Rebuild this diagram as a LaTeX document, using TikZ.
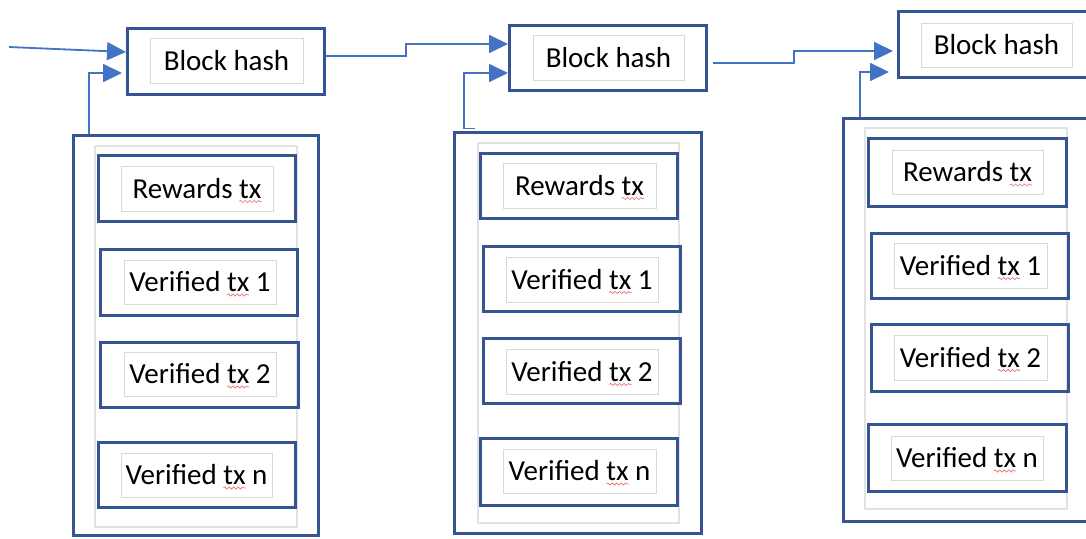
\documentclass[tikz,border=0pt]{standalone}
\usepackage{fontspec}
\setmainfont{Carlito}
\usetikzlibrary{arrows.meta,decorations.pathmorphing}

\definecolor{boxblue}{RGB}{52,84,148}
\definecolor{linkblue}{RGB}{68,114,196}
\definecolor{framegray}{RGB}{217,217,217}
\definecolor{colgray}{RGB}{226,226,226}
\definecolor{spellred}{RGB}{232,110,110}

% wavy red underline under a word (kept out of the bounding box)
\newcommand\spellmark[1]{\tikz[baseline=(sw.base)]{%
  \node[inner sep=0pt,outer sep=0pt,draw=none,minimum size=0pt] (sw) {#1};%
  \draw[overlay,spellred,line width=0.6pt,decorate,decoration={snake,amplitude=1.1pt,segment length=4.5pt}]
    ([yshift=-3.5pt]sw.base west) -- ([yshift=-3.5pt]sw.base east);}}

\tikzset{
  sz/.style 2 args={minimum width=#1pt,minimum height=#2pt},
  blk/.style={draw=boxblue,line width=3pt,inner sep=0pt},
  lbl/.style={draw=framegray,line width=1pt,fill=white,inner sep=0pt,
              text height=19pt,text depth=0pt,
              font=\fontsize{29}{34}\selectfont},
  col/.style={draw=colgray,line width=1.2pt,inner sep=0pt},
  conn/.style={draw=linkblue,line width=1.8pt,
               -{Triangle[length=19pt,width=18pt]}},
}

\begin{document}
\begin{tikzpicture}[x=1pt,y=-1pt]
\useasboundingbox (0,0) rectangle (1086,538);
\clip (0,0) rectangle (1086,538);

% ---------- block 1 ----------
\node[blk,sz={245}{400}] (O1) at (196,335.5) {};
\node[col,sz={202}{381}] (C1) at (196,336.5) {};
\node[blk,sz={197}{66}] (BH1) at (226,61.5) {};
\node[lbl,sz={153}{45}] (BH1t) at (226.5,60.5) {Block hash};
\node[blk,sz={197}{66}] (R1) at (197,188.5) {};
\node[lbl,sz={152}{45}] (R1t) at (197,188.5) {Rewards \spellmark{tx}};
\node[blk,sz={197}{66}] (V11) at (199,282.5) {};
\node[lbl,sz={152}{44}] (V11t) at (200,282) {Verified \spellmark{tx} 1};
\node[blk,sz={198}{65}] (V12) at (199.5,375) {};
\node[lbl,sz={152}{44}] (V12t) at (200,374) {Verified \spellmark{tx} 2};
\node[blk,sz={197}{65}] (V1n) at (197,475) {};
\node[lbl,sz={151}{44}] (V1nt) at (196.5,475) {Verified \spellmark{tx} n};

% ---------- block 2 ----------
\node[blk,sz={247}{401}] (O2) at (578,333) {};
\node[col,sz={201}{380}] (C2) at (578.5,333) {};
\node[blk,sz={197}{65}] (BH2) at (608,58) {};
\node[lbl,sz={151}{45}] (BH2t) at (608.5,57.5) {Block hash};
\node[blk,sz={197}{65}] (R2) at (579,186) {};
\node[lbl,sz={153}{45}] (R2t) at (579.5,185.5) {Rewards \spellmark{tx}};
\node[blk,sz={197}{65}] (V21) at (582,279) {};
\node[lbl,sz={152}{45}] (V21t) at (582,279.5) {Verified \spellmark{tx} 1};
\node[blk,sz={197}{65}] (V22) at (582,371) {};
\node[lbl,sz={152}{45}] (V22t) at (582,371.5) {Verified \spellmark{tx} 2};
\node[blk,sz={197}{67}] (V2n) at (579,472) {};
\node[lbl,sz={153}{44}] (V2nt) at (579.5,471) {Verified \spellmark{tx} n};

% ---------- block 3 ----------
\node[blk,sz={250}{403}] (O3) at (968.5,320) {};
\node[col,sz={202}{381}] (C3) at (966,318.5) {};
\node[blk,sz={197}{66}] (BH3) at (997,44.5) {};
\node[lbl,sz={151}{44}] (BH3t) at (996.5,45) {Block hash};
\node[blk,sz={198}{68}] (R3) at (967,172) {};
\node[lbl,sz={151}{44}] (R3t) at (967.5,172) {Rewards \spellmark{tx}};
\node[blk,sz={197}{65}] (V31) at (970,266) {};
\node[lbl,sz={153}{45}] (V31t) at (970.5,265.5) {Verified \spellmark{tx} 1};
\node[blk,sz={197}{67}] (V32) at (970,358) {};
\node[lbl,sz={153}{45}] (V32t) at (970.5,357.5) {Verified \spellmark{tx} 2};
\node[blk,sz={198}{67}] (V3n) at (967.5,458) {};
\node[lbl,sz={152}{44}] (V3nt) at (967,458) {Verified \spellmark{tx} n};

% ---------- links ----------
\coordinate (src) at (9,47);
\draw[conn] (src) -- ([yshift=9.5pt]BH1.west);
\draw[conn,shorten >=4pt] (89,0 |- O1.north) |- ([yshift=-11.5pt]BH1.west);

\draw[conn] ([yshift=5.5pt]BH1.east) -- ++(80,0) |- ([yshift=14pt]BH2.west);
\coordinate (k2) at (475,128.5);
\draw[conn] (k2) -- (464,128.5) |- ([yshift=-15pt]BH2.west);

\draw[conn,shorten <=5pt,shorten >=4pt] ([yshift=-5pt]BH2.east) -- ++(86,0) |- ([yshift=-6.5pt]BH3.west);
\draw[conn,shorten >=8pt] (860,0 |- O3.north) |- ([yshift=-27.5pt]BH3.west);
\end{tikzpicture}
\end{document}
